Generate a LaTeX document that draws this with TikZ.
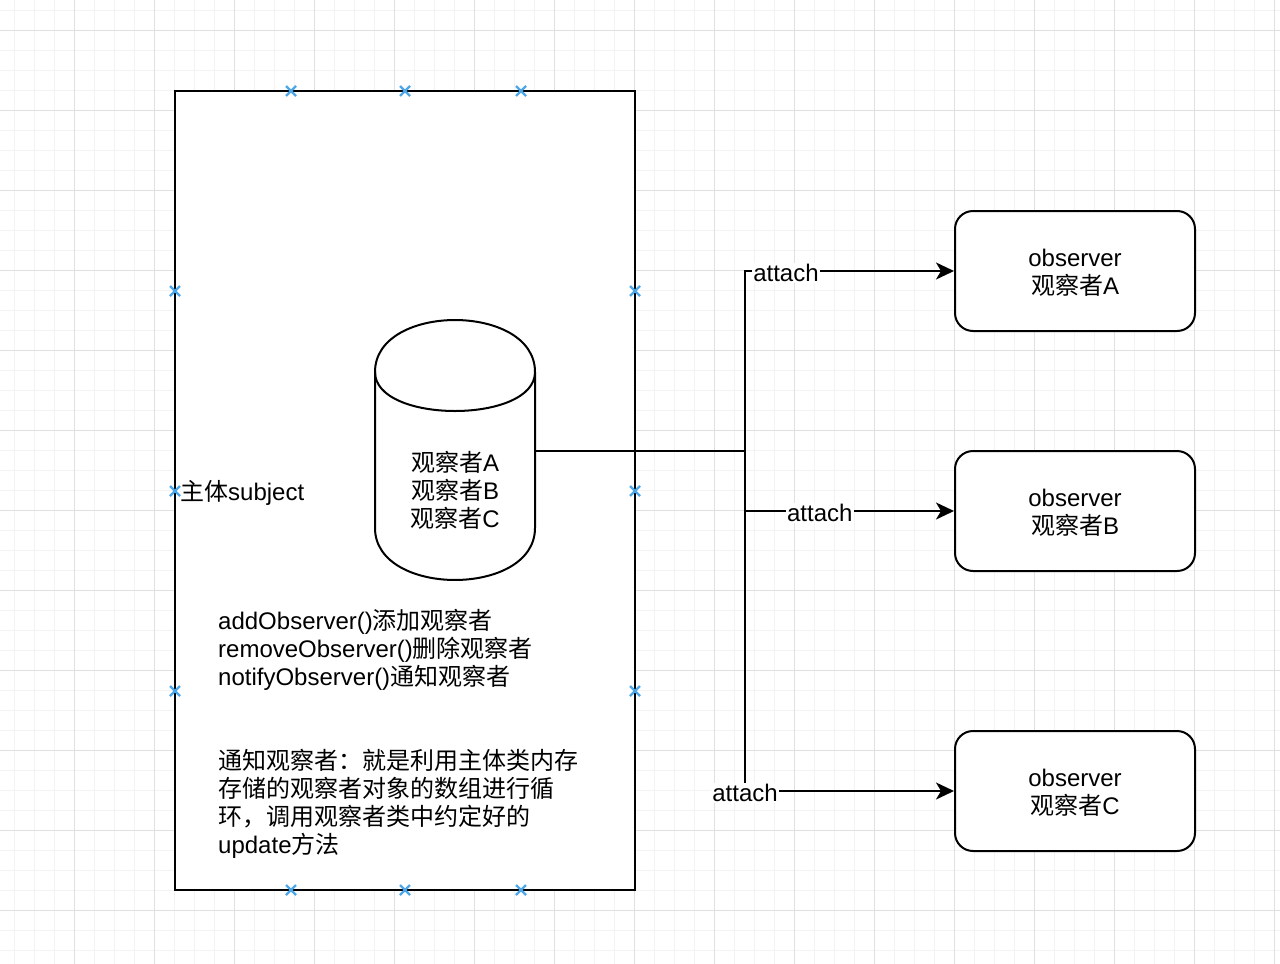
\documentclass[tikz,border=0pt]{standalone}
\usepackage{fontspec}
\setmainfont{Liberation Sans}
\newfontfamily\cjk{Noto Sans CJK SC}
\usetikzlibrary{arrows.meta}
\definecolor{gridminor}{HTML}{F3F3F3}
\definecolor{gridmajor}{HTML}{E0E0E0}
\definecolor{xblue}{HTML}{4DA6E8}
\tikzset{
  frame/.style={draw=black, fill=white, line width=2pt},
  obsbox/.style={draw=black, fill=white, line width=2pt, rounded corners=18pt,
    minimum width=240pt, minimum height=120pt, align=center, inner sep=0pt},
  obstext/.style={inner sep=0pt, align=center},
  txt/.style={inner sep=0pt, align=left},
  lbl/.style={fill=white, inner sep=1.5pt, yshift=-2pt},
  conn/.style={draw=black, line width=2pt},
  arr/.style={conn, -{Stealth[length=18pt,width=17pt,inset=5pt]}},
  xmark/.style={draw=xblue, line width=2.2pt},
}
\begin{document}
\begin{tikzpicture}[x=1pt,y=-1pt, font=\fontsize{24}{28}\selectfont]
\useasboundingbox (0,0) rectangle (1280,964);
\fill[white] (0,0) rectangle (1280,964);
% grid
\foreach \i in {0,...,63} {
  \draw[gridminor, line width=1pt] (14+20*\i,0) -- (14+20*\i,964);
}
\foreach \j in {0,...,47} {
  \draw[gridminor, line width=1pt] (0,10+20*\j) -- (1280,10+20*\j);
}
\foreach \i in {0,...,15} {
  \draw[gridmajor, line width=1pt] (74+80*\i,0) -- (74+80*\i,964);
}
\foreach \j in {0,...,11} {
  \draw[gridmajor, line width=1pt] (0,30+80*\j) -- (1280,30+80*\j);
}

% subject container
\node[frame, minimum width=460pt, minimum height=799pt, inner sep=0pt] (subj) at (405,490.5) {};
\node[txt, anchor=west] (subjlbl) at (180,493) {{\cjk 主体}subject};

% cylinder
\draw[frame] (375,372) .. controls (375,302.7) and (535,302.7) .. (535,372)
  -- (535,528) .. controls (535,597.3) and (375,597.3) .. (375,528) -- cycle;
\draw[conn] (375,372) .. controls (375,424) and (535,424) .. (535,372);
\node[txt, align=center] (store) at (455,490.5) {{\cjk 观察者}A\\{\cjk 观察者}B\\{\cjk 观察者}C};
\coordinate (cylE) at (535,451);

% method texts
\node[txt, anchor=west] (methods) at (218,650)
  {addObserver(){\cjk 添加观察者}\\removeObserver(){\cjk 删除观察者}\\notifyObserver(){\cjk 通知观察者}};
\node[txt, anchor=west] (desc) at (218,804)
  {{\cjk 通知观察者：就是利用主体类内存}\\{\cjk 存储的观察者对象的数组进行循}\\{\cjk 环，调用观察者类中约定好的}\\update{\cjk 方法}};

% connection markers
\foreach \x/\y in {291/91,405/91,521/91,291/890,405/890,521/890,
                   175/291,175/491,175/691,635/291,635/491,635/691} {
  \draw[xmark] (\x-5,\y-5) -- (\x+5,\y+5) (\x-5,\y+5) -- (\x+5,\y-5);
}

% observers
\node[obsbox] (obsA) at (1075,271) {};
\node[obsbox] (obsB) at (1075,511) {};
\node[obsbox] (obsC) at (1075,791) {};
\node[obstext] (obsAt) at (1075,273) {observer\\{\cjk 观察者}A};
\node[obstext] (obsBt) at (1075,513) {observer\\{\cjk 观察者}B};
\node[obstext] (obsCt) at (1075,793) {observer\\{\cjk 观察者}C};

% connectors
\coordinate (jn) at (745,451);
\draw[conn] (cylE) -- (jn);
\draw[arr] (jn) |- node[lbl, pos=0.598] {attach} (obsA.west);
\draw[arr] (jn) |- node[lbl, pos=0.679] {attach} (obsB.west);
\draw[arr] (jn) |- node[lbl, pos=0.5] {attach} (obsC.west);
\end{tikzpicture}
\end{document}
